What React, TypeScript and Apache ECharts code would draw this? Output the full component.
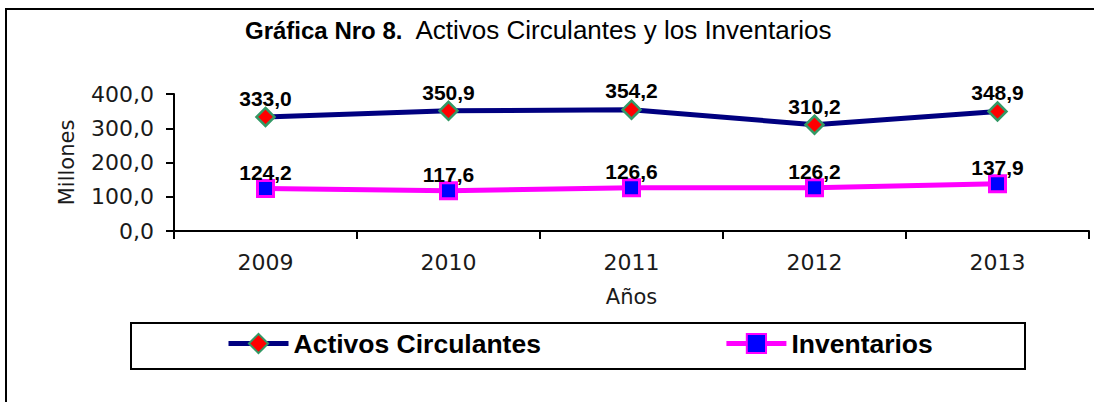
import React, { useEffect, useRef } from "react";
import * as echarts from "echarts";

const categories = ["2009", "2010", "2011", "2012", "2013"];
const activos = [333.0, 350.9, 354.2, 310.2, 348.9];
const inventarios = [124.2, 117.6, 126.6, 126.2, 137.9];
const yMin = 0;
const yMax = 400;
const yStep = 100;

const fmt = (v: number) => v.toFixed(1).replace(".", ",");
const AXIS_FONT = "'DejaVu Sans', Verdana, sans-serif";
const BOLD_FONT = "'Liberation Sans', Arial, sans-serif";

export default function App() {
  const ref = useRef<HTMLDivElement>(null);
  useEffect(() => {
    if (!ref.current) return;
    const chart = echarts.init(ref.current, undefined, { renderer: "svg" });
    const labelStyle = (distance: number) => ({
      show: true,
      position: "top" as const,
      distance,
      fontFamily: BOLD_FONT,
      fontWeight: "bold" as const,
      fontSize: 21,
      color: "#000",
      formatter: (p: any) => fmt(p.value),
    });
    chart.setOption({
      animation: false,
      backgroundColor: "#fff",
      title: {
        left: 245,
        top: 17,
        padding: 0,
        text: "{b|Gráfica Nro 8.}{n|  Activos Circulantes y los Inventarios}",
        textStyle: {
          rich: {
            b: { fontFamily: BOLD_FONT, fontWeight: "bold", fontSize: 24, color: "#000" },
            n: { fontFamily: BOLD_FONT, fontWeight: "normal", fontSize: 26, color: "#000" },
          },
        },
      },
      graphic: [
        {
          type: "rect",
          shape: { x: 6, y: 9, width: 1200, height: 600 },
          style: { fill: "none", stroke: "#000", lineWidth: 2 },
          silent: true,
        },
        {
          type: "rect",
          shape: { x: 131, y: 323, width: 894, height: 46 },
          style: { fill: "none", stroke: "#000", lineWidth: 2 },
          silent: true,
        },
      ],
      legend: {
        left: 226,
        top: 330,
        padding: 0,
        itemWidth: 60,
        itemHeight: 24,
        itemGap: 183,
        lineStyle: { width: 5 },
        textStyle: {
          fontFamily: BOLD_FONT,
          fontWeight: "bold",
          fontSize: 26.5,
          color: "#000",
        },
        data: ["Activos Circulantes", "Inventarios"],
      },
      grid: { left: 174, right: 5, top: 94, bottom: 171, containLabel: false },
      xAxis: {
        type: "category",
        data: categories,
        boundaryGap: true,
        axisLine: { lineStyle: { color: "#000", width: 2 } },
        axisTick: { show: true, length: 8, lineStyle: { color: "#000", width: 2 } },
        axisLabel: { fontFamily: AXIS_FONT, fontSize: 22, color: "#1a1a1a", margin: 20 },
        name: "Años",
        nameLocation: "middle",
        nameGap: 55,
        nameTextStyle: { fontFamily: AXIS_FONT, fontSize: 21, color: "#1a1a1a" },
        splitLine: { show: false },
      },
      yAxis: {
        type: "value",
        min: yMin,
        max: yMax,
        interval: yStep,
        axisLine: { show: true, lineStyle: { color: "#000", width: 2 } },
        axisTick: { show: true, length: 8, lineStyle: { color: "#000", width: 2 } },
        axisLabel: {
          fontFamily: AXIS_FONT,
          fontSize: 22,
          color: "#1a1a1a",
          margin: 20,
          formatter: (v: number) => fmt(v),
        },
        splitLine: { show: false },
        name: "Millones",
        nameLocation: "middle",
        nameGap: 97,
        nameRotate: 90,
        nameTextStyle: { fontFamily: AXIS_FONT, fontSize: 21, color: "#1a1a1a" },
      },
      series: [
        {
          name: "Activos Circulantes",
          type: "line",
          data: activos,
          symbol: "diamond",
          symbolSize: 18,
          lineStyle: { color: "#000080", width: 5 },
          itemStyle: { color: "#ff0000", borderColor: "#339966", borderWidth: 2.5 },
          label: labelStyle(-2),
          z: 3,
        },
        {
          name: "Inventarios",
          type: "line",
          data: inventarios,
          symbol: "rect",
          symbolSize: 16,
          lineStyle: { color: "#ff00ff", width: 5 },
          itemStyle: { color: "#0000ff", borderColor: "#ff00ff", borderWidth: 3 },
          label: labelStyle(-4),
          z: 2,
        },
      ],
    });
    return () => chart.dispose();
  }, []);
  return (
    <div
      ref={ref}
      style={{ position: "fixed", left: 0, top: 0, width: 1094, height: 402 }}
    />
  );
}
